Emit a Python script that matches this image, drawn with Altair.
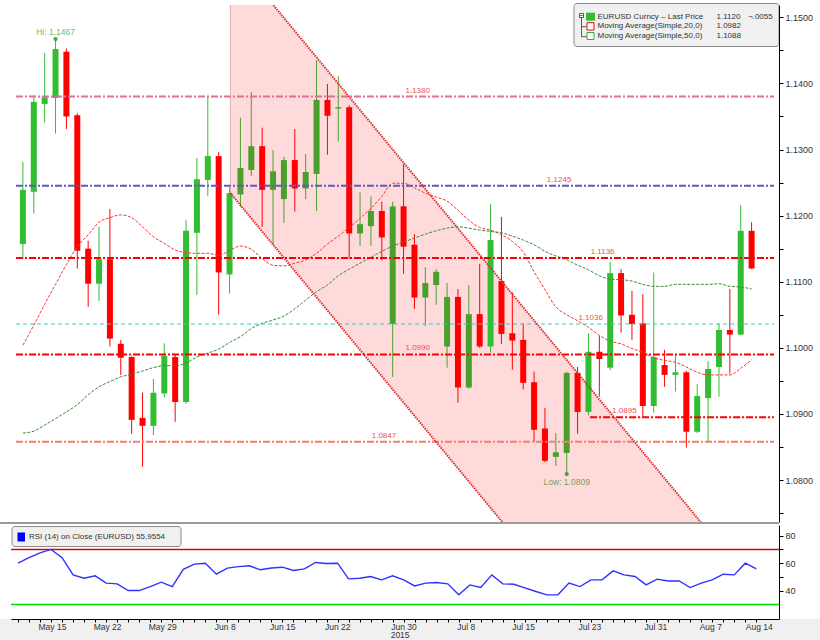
import altair as alt
import pandas as pd

FONT = "Liberation Sans"

# ---------------- data ----------------
opens = [1.1157, 1.1236, 1.1369, 1.1378, 1.1448, 1.1352, 1.1150, 1.1097, 1.1134, 1.1006,
         1.0986, 1.0894, 1.0882, 1.0931, 1.0986, 1.0918, 1.1174, 1.1254, 1.1290, 1.1111,
         1.1232, 1.1269, 1.1305, 1.1239, 1.1225, 1.1284, 1.1241, 1.1263, 1.1375, 1.1362,
         1.1364, 1.1173, 1.1184, 1.1207, 1.1036, 1.1214, 1.1156, 1.1076, 1.1095, 1.1002,
         1.1077, 1.0940, 1.1051, 1.1002, 1.1101, 1.1022, 1.1012, 1.0948, 1.0878, 1.0835,
         1.0841, 1.0962, 1.0903, 1.0994, 1.0970, 1.1113, 1.1050, 1.1037, 1.0912, 1.0974,
         1.0959, 1.0963, 1.0873, 1.0924, 1.0971, 1.1027, 1.1020, 1.1177]
highs = [1.1281, 1.1382, 1.1446, 1.1467, 1.1453, 1.1355, 1.1162, 1.1183, 1.1210, 1.1012,
         1.0988, 1.0932, 1.0953, 1.1007, 1.0991, 1.1193, 1.1287, 1.1381, 1.1296, 1.1243,
         1.1348, 1.1387, 1.1333, 1.1299, 1.1289, 1.1331, 1.1293, 1.1435, 1.1399, 1.1411,
         1.1367, 1.1235, 1.1229, 1.1221, 1.1221, 1.1278, 1.1172, 1.1122, 1.1119, 1.1098,
         1.1089, 1.1095, 1.1127, 1.1218, 1.1198, 1.1084, 1.1037, 1.0964, 1.0909, 1.0871,
         1.0964, 1.0971, 1.1022, 1.1018, 1.1130, 1.1119, 1.1086, 1.1081, 1.1114, 1.0997,
         1.0990, 1.0965, 1.0945, 1.0980, 1.1037, 1.1089, 1.1216, 1.1190]
lows = [1.1134, 1.1203, 1.1341, 1.1324, 1.1331, 1.1120, 1.1062, 1.1071, 1.1002, 1.0959,
        1.0870, 1.0820, 1.0868, 1.0925, 1.0888, 1.0915, 1.1080, 1.1230, 1.1050, 1.1082,
        1.1213, 1.1260, 1.1183, 1.1156, 1.1189, 1.1206, 1.1225, 1.1207, 1.1292, 1.1312,
        1.1135, 1.1154, 1.1154, 1.1132, 1.0956, 1.1112, 1.1059, 1.1033, 1.1065, 1.0970,
        1.0917, 1.0938, 1.1000, 1.0993, 1.1006, 1.0967, 1.0937, 1.0858, 1.0827, 1.0821,
        1.0809, 1.0870, 1.0898, 1.0926, 1.0966, 1.1023, 1.1012, 1.0895, 1.0902, 1.0941,
        1.0934, 1.0849, 1.0871, 1.0859, 1.0926, 1.0961, 1.1019, 1.1119]
closes = [1.1239, 1.1372, 1.1379, 1.1452, 1.1350, 1.1147, 1.1097, 1.1134, 1.1014, 1.0985,
          1.0891, 1.0882, 1.0932, 1.0988, 1.0918, 1.1177, 1.1255, 1.1290, 1.1114, 1.1234,
          1.1272, 1.1305, 1.1239, 1.1267, 1.1284, 1.1241, 1.1266, 1.1375, 1.1351, 1.1364,
          1.1173, 1.1187, 1.1207, 1.1167, 1.1214, 1.1153, 1.1076, 1.1098, 1.1115, 1.1077,
          1.0940, 1.1051, 1.1002, 1.1163, 1.1021, 1.1011, 1.0947, 1.0876, 1.0829, 1.0842,
          1.0962, 1.0903, 1.0994, 1.0983, 1.1113, 1.1049, 1.1036, 1.0912, 1.0986, 1.0959,
          1.0963, 1.0873, 1.0927, 1.0968, 1.1027, 1.1020, 1.1177, 1.1120]
ma20 = [1.1004, 1.1034, 1.1066, 1.1096, 1.1126, 1.1153, 1.1171, 1.1190, 1.1197, 1.1201,
        1.1197, 1.1183, 1.1168, 1.1158, 1.1148, 1.1144, 1.1143, 1.1143, 1.1140, 1.1147,
        1.1154, 1.1149, 1.1135, 1.1125, 1.1124, 1.1128, 1.1133, 1.1143, 1.1157, 1.1169,
        1.1182, 1.1196, 1.1211, 1.1229, 1.1249, 1.1249, 1.1242, 1.1234, 1.1228, 1.1222,
        1.1208, 1.1193, 1.1182, 1.1178, 1.1171, 1.1161, 1.1145, 1.1115, 1.1088, 1.1062,
        1.1050, 1.1041, 1.1031, 1.1019, 1.1010, 1.1006, 1.0999, 1.0993, 1.0985, 1.0981,
        1.0978, 1.0971, 1.0963, 1.0959, 1.0959, 1.0959, 1.0969, 1.0982]
ma50 = [1.0871, 1.0874, 1.0883, 1.0893, 1.0903, 1.0914, 1.0929, 1.0941, 1.0949, 1.0956,
        1.0960, 1.0965, 1.0970, 1.0973, 1.0973, 1.0977, 1.0986, 1.0992, 1.0998, 1.1008,
        1.1017, 1.1029, 1.1037, 1.1042, 1.1048, 1.1059, 1.1072, 1.1085, 1.1095, 1.1109,
        1.1119, 1.1128, 1.1137, 1.1146, 1.1154, 1.1160, 1.1166, 1.1172, 1.1177, 1.1181,
        1.1183, 1.1181, 1.1178, 1.1176, 1.1174, 1.1169, 1.1163, 1.1156, 1.1146, 1.1139,
        1.1133, 1.1125, 1.1118, 1.1109, 1.1104, 1.1103, 1.1101, 1.1096, 1.1093, 1.1093,
        1.1096, 1.1096, 1.1096, 1.1096, 1.1097, 1.1093, 1.1092, 1.1089]
rsi = [60, 64, 67.5, 70, 64, 51.5, 49.1, 50.8, 45.5, 45,
       40.1, 40.1, 43, 46.2, 43, 55.6, 59.3, 60, 52, 56.4,
       57.5, 58.1, 55.2, 56.5, 57.1, 54.7, 55.9, 60.5, 59.8, 60,
       48.6, 49.1, 50.3, 47.9, 50.8, 47.9, 43.5, 45.5, 46, 45,
       37, 44.2, 42.3, 51.5, 45, 44.7, 42, 39.4, 37, 37,
       45.5, 43, 47.9, 47.9, 54.4, 51.5, 50.3, 44.2, 48.4, 47.1,
       47.1, 42.3, 45.5, 47.9, 52, 51.5, 60, 55.96]

tick_label_pos = [2, 7, 12, 18, 23, 28, 34, 40, 45, 51, 57, 62, 67]
tick_label_text = ["May 15", "May 22", "May 29", "Jun 8", "Jun 15", "Jun 22", "Jun 30",
                   "Jul 8", "Jul 15", "Jul 23", "Jul 31", "Aug 7", "Aug 14"]
year_label = "2015"
year_pos = 34

level_prices = [1.1380, 1.1245, 1.1136, 1.1036, 1.0990, 1.0895, 1.0858]
level_texts = ["1.1380", "1.1245", "1.1136", "1.1036", "1.0990", "1.0895", "1.0847"]
level_text_pos = [36.3, 49.3, 53.3, 52.2, 36.3, 55.3, 33.2]
level_start = [None, None, None, None, None, 52.15, None]

channel_x = [19.08, 64.0]
channel_upper = [1.1597, 1.0703]
channel_lower = [1.1234, 1.0340]

hi_i, hi_p, hi_text = 3, 1.1467, "Hi: 1.1467"
lo_i, lo_p, lo_text = 50, 1.0809, "Low: 1.0809"

legend_rows = ["EURUSD Curncy \u2013 Last Price", "Moving Average(Simple,20,0)", "Moving Average(Simple,50,0)"]
legend_vals = ["1.1120", "1.0982", "1.1088"]
legend_change = "\u00ac.0055"
rsi_legend = "RSI (14) on Close (EURUSD) 55,9554"
rsi_levels = [70, 30]

# ---------------- geometry / styles ----------------
W, H_MAIN, H_RSI = 768, 517, 94
X_MIN, X_MAX = -0.635, 69.06
P_MIN, P_MAX = 1.07365, 1.15186
R_MIN, R_MAX = 19.42, 87.78
GREEN, OLIVE, RED = "#33bd33", "#4ba02d", "#ff0000"

n = len(closes)
slope = (channel_upper[0] - channel_upper[1]) / (channel_x[1] - channel_x[0])


def in_band(i, c):
    if i < channel_x[0]:
        return False
    up = channel_upper[0] - slope * (i - channel_x[0])
    lo = channel_lower[0] - slope * (i - channel_x[0])
    return lo <= c <= up


cols = []
for i, (o, c) in enumerate(zip(opens, closes)):
    if c < o:
        cols.append(RED)
    else:
        cols.append(OLIVE if in_band(i, c) else GREEN)

candles = pd.DataFrame({"i": list(range(n)), "open": opens, "high": highs,
                        "low": lows, "close": closes, "col": cols})
ma_df = pd.DataFrame({"i": list(range(n)), "ma20": ma20, "ma50": ma50})
rsi_df = pd.DataFrame({"i": list(range(n)), "rsi": rsi})
chan_df = pd.DataFrame({"ci": channel_x, "upper": channel_upper, "lower": channel_lower})
one = pd.DataFrame({"a": [0]})

xs = alt.Scale(domain=[X_MIN, X_MAX], nice=False, zero=False)
ps = alt.Scale(domain=[P_MIN, P_MAX], nice=False, zero=False)
rs = alt.Scale(domain=[R_MIN, R_MAX], nice=False, zero=False)

price_ticks = [round(1.075 + 0.005 * k, 3) for k in range(16)]
yaxis_main = alt.Axis(orient="right", values=price_ticks,
                      labelExpr="abs(round(datum.value*1000) % 10) < 0.5 ? format(datum.value, '.4f') : ''",
                      tickSize=4, tickColor="black", domainColor="black", labelColor="#333333",
                      labelFontSize=9, labelFont=FONT, labelPadding=2, grid=False, title=None,
                      zindex=1, labelOverlap=False)


def X(f):
    return alt.X(f"{f}:Q", scale=xs, axis=None, title=None)


def Y(f):
    return alt.Y(f"{f}:Q", scale=ps, axis=yaxis_main, title=None)


ccol = alt.Color("col:N", scale=None, legend=None)

layers = []
layers.append(alt.Chart(one).mark_rect(color="white").encode(
    x=alt.value(0), x2=alt.value(W), y=alt.value(-5), y2=alt.value(0)))
# channel band (under candles)
layers.append(alt.Chart(chan_df).mark_area(color="#ffdada", clip=True).encode(
    x=X("ci"), y=Y("upper"), y2=alt.Y2("lower")))
layers.append(alt.Chart(chan_df.iloc[:1]).mark_rule(color="#d6b4b4", strokeWidth=1, clip=True).encode(
    x=X("ci"), y=Y("lower"), y2=alt.Y2("upper")))
# candles
layers.append(alt.Chart(candles).mark_rule(strokeWidth=1).encode(
    x=X("i"), y=Y("low"), y2=alt.Y2("high"), color=ccol))
layers.append(alt.Chart(candles).mark_bar(size=6).encode(
    x=X("i"), y=Y("open"), y2=alt.Y2("close"), color=ccol))
# moving averages
layers.append(alt.Chart(ma_df).mark_line(color="#ff3030", strokeWidth=1, strokeDash=[3, 1.5],
                                         interpolate="monotone").encode(x=X("i"), y=Y("ma20")))
layers.append(alt.Chart(ma_df).mark_line(color="#3a8a3a", strokeWidth=1, strokeDash=[3, 1.5],
                                         interpolate="monotone").encode(x=X("i"), y=Y("ma50")))
# horizontal levels
level_styles = [
    dict(color="#df6f96", strokeWidth=2, strokeDash=[7, 2, 2, 2]),
    dict(color="#5c5cc0", strokeWidth=2, strokeDash=[7, 2, 2, 2]),
    dict(color="#ff0000", strokeWidth=2, strokeDash=[7, 2, 2, 2]),
    dict(color="#3cc8c8", strokeWidth=1, strokeDash=[4, 3]),
    dict(color="#ff0000", strokeWidth=2, strokeDash=[7, 2, 2, 2]),
    dict(color="#ff0000", strokeWidth=2, strokeDash=[7, 2, 2, 2]),
    dict(color="#f4806e", strokeWidth=2, strokeDash=[7, 2, 2, 2]),
]
for p, t, tp, st, sty in zip(level_prices, level_texts, level_text_pos, level_start, level_styles):
    d = pd.DataFrame({"p": [p], "start": [X_MIN if st is None else st], "end": [X_MAX],
                      "tp": [tp], "t": [t]})
    layers.append(alt.Chart(d).mark_rule(**sty).encode(x=X("start"), x2=alt.X2("end"), y=Y("p")))
    layers.append(alt.Chart(d).mark_text(color="#f05050", fontSize=8, font=FONT, dy=-6,
                                         baseline="middle", align="center").encode(
        x=X("tp"), y=Y("p"), text="t:N"))
# channel border lines
for col in ["upper", "lower"]:
    layers.append(alt.Chart(chan_df).mark_line(color="#dd3030", strokeWidth=2, strokeDash=[1.5, 1],
                                               clip=True).encode(x=X("ci"), y=Y(col)))
# Hi / Low
hi_df = pd.DataFrame({"i": [hi_i], "p": [hi_p], "t": [hi_text]})
lo_df = pd.DataFrame({"i": [lo_i], "p": [lo_p], "t": [lo_text]})
layers.append(alt.Chart(hi_df).mark_point(filled=True, size=18, opacity=1, color="#3caa3c").encode(
    x=X("i"), y=Y("p")))
layers.append(alt.Chart(lo_df).mark_point(filled=True, size=18, opacity=1, color="#5a9a3a").encode(
    x=X("i"), y=Y("p")))
layers.append(alt.Chart(hi_df).mark_text(color="#6cbf6c", fontSize=8.5, font=FONT, dy=-7).encode(
    x=X("i"), y=Y("p"), text="t:N"))
layers.append(alt.Chart(lo_df).mark_text(color="#7d9d5d", fontSize=8.5, font=FONT, dy=8).encode(
    x=X("i"), y=Y("p"), text="t:N"))

# legend box (top right)
layers.append(alt.Chart(one).mark_rect(fill="#f0f0f0", stroke="#8a8a8a", strokeWidth=1, cornerRadius=3).encode(
    x=alt.value(563), x2=alt.value(768), y=alt.value(-1.5), y2=alt.value(41.5)))
layers.append(alt.Chart(one).mark_rect(fill="white", stroke="#333333", strokeWidth=0.8).encode(
    x=alt.value(568.5), x2=alt.value(572.5), y=alt.value(8.5), y2=alt.value(12.5)))
layers.append(alt.Chart(one).mark_rule(color="#333333", strokeWidth=0.8).encode(
    x=alt.value(569.3), x2=alt.value(571.7), y=alt.value(10.5)))
layers.append(alt.Chart(one).mark_rule(color="#333333", strokeWidth=0.8).encode(
    x=alt.value(570.5), y=alt.value(12.5), y2=alt.value(31.7)))
for yy in [21.7, 31.7]:
    layers.append(alt.Chart(one).mark_rule(color="#333333", strokeWidth=0.8).encode(
        x=alt.value(570.5), x2=alt.value(575.5), y=alt.value(yy)))
layers.append(alt.Chart(one).mark_rect(fill=GREEN).encode(
    x=alt.value(575), x2=alt.value(584), y=alt.value(7.7), y2=alt.value(15.7)))
layers.append(alt.Chart(one).mark_rect(fill="white", stroke="#ff0000", strokeWidth=1).encode(
    x=alt.value(576), x2=alt.value(583), y=alt.value(17.7), y2=alt.value(25)))
layers.append(alt.Chart(one).mark_rect(fill="white", stroke="#33aa33", strokeWidth=1).encode(
    x=alt.value(576), x2=alt.value(583), y=alt.value(27.5), y2=alt.value(34.5)))
for k, (row, val) in enumerate(zip(legend_rows, legend_vals)):
    yy = [11.7, 21.2, 30.9][k]
    layers.append(alt.Chart(one).mark_text(align="left", baseline="middle", fontSize=8, font=FONT,
                                           color="#333333").encode(
        x=alt.value(586.5), y=alt.value(yy), text=alt.value(row)))
    layers.append(alt.Chart(one).mark_text(align="left", baseline="middle", fontSize=8, font=FONT,
                                           color="#333333").encode(
        x=alt.value(705.5), y=alt.value(yy), text=alt.value(val)))
layers.append(alt.Chart(one).mark_text(align="left", baseline="middle", fontSize=8, font=FONT,
                                       color="#333333").encode(
    x=alt.value(737), y=alt.value(11.7), text=alt.value(legend_change)))

main = alt.layer(*layers).properties(width=W, height=H_MAIN)

# ---------------- RSI panel ----------------
parts = []
for pos, txt in zip(tick_label_pos, tick_label_text):
    parts.append(f"datum.value == {pos} ? '{txt}' : ")
x_label_expr = "".join(parts) + "''"

xaxis_rsi = alt.Axis(values=list(range(n)), labelExpr=x_label_expr, labelAlign="left",
                     labelOffset={"condition": {"test": f"datum.value == {tick_label_pos[-1]}", "value": -11},
                                  "value": -2},
                     tickSize=3, tickColor="black", domainColor="black", labelColor="#333333",
                     labelFontSize=8.5, labelFont=FONT, labelPadding=0,
                     labelOverlap=False, grid=False, title=None, zindex=1)
yaxis_rsi = alt.Axis(orient="right", values=[40, 50, 60, 70, 80],
                     labelExpr="datum.value % 20 == 0 ? datum.value : ''",
                     tickSize=4, tickColor="black", domainColor="black", labelColor="#333333",
                     labelFontSize=9, labelFont=FONT, labelPadding=2, grid=False, title=None,
                     zindex=1, labelOverlap=False)


def XR(f):
    return alt.X(f"{f}:Q", scale=xs, axis=xaxis_rsi, title=None)


def R(f):
    return alt.Y(f"{f}:Q", scale=rs, axis=yaxis_rsi, title=None)


rl = []
rl.append(alt.Chart(one).mark_rect(color="#f0f0f0").encode(
    x=alt.value(-11), x2=alt.value(W + 41), y=alt.value(H_RSI), y2=alt.value(H_RSI + 22)))
rl.append(alt.Chart(one).mark_rect(color="#9a9a9a").encode(
    x=alt.value(-11), x2=alt.value(W), y=alt.value(-3), y2=alt.value(-1)))
hi_lv = pd.DataFrame({"v": [rsi_levels[0]]})
lo_lv = pd.DataFrame({"v": [rsi_levels[1]]})
rl.append(alt.Chart(hi_lv).mark_rule(strokeWidth=1.5, color="#e00000").encode(
    x=alt.value(0), x2=alt.value(W), y=R("v")))
rl.append(alt.Chart(lo_lv).mark_rule(strokeWidth=1.5, color="#00dd00").encode(
    x=alt.value(0), x2=alt.value(W), y=R("v")))
rl.append(alt.Chart(rsi_df).mark_line(color="#3030ff", strokeWidth=1.4).encode(x=XR("i"), y=R("rsi")))
# year under "Jun 30"
yr = pd.DataFrame({"i": [year_pos], "t": [year_label]})
rl.append(alt.Chart(yr).mark_text(align="left", baseline="middle", fontSize=8.5, font=FONT,
                                  color="#333333", dx=-2).encode(
    x=XR("i"), y=alt.value(H_RSI + 16), text="t:N"))
rl.append(alt.Chart(one).mark_rect(fill="#f0f0f0", stroke="#8a8a8a", strokeWidth=1, cornerRadius=3).encode(
    x=alt.value(1), x2=alt.value(170), y=alt.value(1.5), y2=alt.value(21.5)))
rl.append(alt.Chart(one).mark_rect(fill="#0000ff").encode(
    x=alt.value(6.5), x2=alt.value(14), y=alt.value(7.5), y2=alt.value(16.5)))
rl.append(alt.Chart(one).mark_text(align="left", baseline="middle", fontSize=8, font=FONT,
                                   color="#333333").encode(
    x=alt.value(18), y=alt.value(12), text=alt.value(rsi_legend)))

rsi_panel = alt.layer(*rl).properties(width=W, height=H_RSI)

chart = alt.vconcat(main, rsi_panel, spacing=0).properties(
    padding=0, background="white"
).configure_view(stroke=None)

chart.save("out.html", embed_options={"renderer": "svg", "actions": False})
